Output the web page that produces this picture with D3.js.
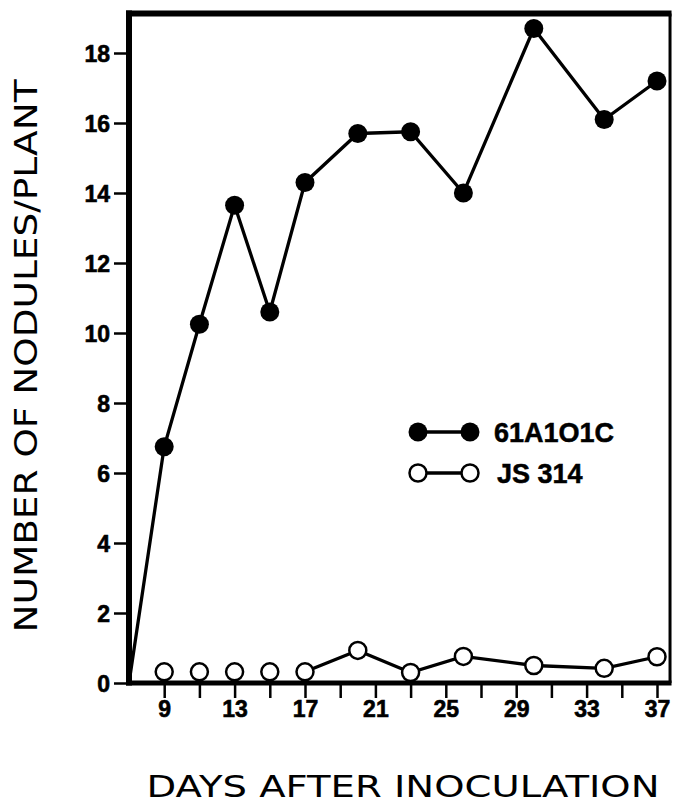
<!DOCTYPE html>
<html><head><meta charset="utf-8">
<script src="https://cdn.jsdelivr.net/npm/d3@7"></script>
<style>body{margin:0;background:#fff}svg{display:block}</style>
</head><body>
<script>
// ---- data ----
const days61 = [9, 11, 13, 15, 17, 20, 23, 26, 30, 34, 37];
const nod61  = [6.75, 10.25, 13.65, 10.6, 14.3, 15.7, 15.75, 14.0, 18.7, 16.1, 17.2];
const daysJS = [9, 11, 13, 15, 17, 20, 23, 26, 30, 34, 37];
const nodJS  = [0.32, 0.32, 0.32, 0.32, 0.32, 0.93, 0.3, 0.76, 0.5, 0.42, 0.75];
const jsLineFrom = 17;          // JS 314 points are joined from day 17 onward
const origin = [7, 0];          // 61A1O1C line starts at the origin
const xTickLabels = [9, 13, 17, 21, 25, 29, 33, 37];
const xMinorTicks = [11, 15, 19, 23, 27, 31, 35];
const yTickLabels = [0, 2, 4, 6, 8, 10, 12, 14, 16, 18];
const seriesNames = ["61A1O1C", "JS 314"];

const W = 675, H = 804;
const svg = d3.select("body").append("svg").attr("width", W).attr("height", H);

const x = d3.scaleLinear().domain([7, 37]).range([129, 657]);
const y = d3.scaleLinear().domain([0, 18]).range([683, 53]);
const xMax = 37.74, yMax = 19.13;
const tickFont = "Liberation Sans, Arial, sans-serif";

// frame: top and right borders
svg.append("line").attr("x1", x(7) - 3).attr("x2", x(xMax) + 1.5)
  .attr("y1", y(yMax)).attr("y2", y(yMax)).attr("stroke", "#000").attr("stroke-width", 6);
svg.append("line").attr("x1", x(xMax)).attr("x2", x(xMax))
  .attr("y1", y(yMax)).attr("y2", y(0)).attr("stroke", "#000").attr("stroke-width", 3);

// y axis
const yAxis = d3.axisLeft(y).tickValues(yTickLabels).tickSize(15).tickPadding(4).tickFormat(d3.format("d"));
const gy = svg.append("g").attr("transform", `translate(${x(7)},0)`).call(yAxis);
gy.attr("font-size", null).attr("font-family", null);
gy.select(".domain").remove();
gy.selectAll(".tick line").attr("stroke", "#000").attr("stroke-width", 2.5);
gy.selectAll(".tick text").style("font-family", tickFont).style("font-weight", "bold")
  .style("font-size", "23px").attr("fill", "#000").attr("stroke", "#000").attr("stroke-width", 0.6)
  .attr("dy", "0.36em");

// x axis
const xAxis = d3.axisBottom(x).tickValues(xTickLabels).tickSize(15).tickPadding(3).tickFormat(d3.format("d"));
const gx = svg.append("g").attr("transform", `translate(0,${y(0)})`).call(xAxis);
gx.attr("font-size", null).attr("font-family", null);
gx.select(".domain").remove();
gx.selectAll(".tick line").attr("stroke", "#000").attr("stroke-width", 2.5);
gx.selectAll(".tick text").style("font-family", tickFont).style("font-weight", "bold")
  .style("font-size", "23px").attr("fill", "#000").attr("stroke", "#000").attr("stroke-width", 0.6);
const gxm = svg.append("g").attr("transform", `translate(0,${y(0)})`)
  .call(d3.axisBottom(x).tickValues(xMinorTicks).tickSize(15).tickFormat(""));
gxm.select(".domain").remove();
gxm.selectAll(".tick line").attr("stroke", "#000").attr("stroke-width", 2.5);

// axis lines (thick)
svg.append("line").attr("x1", x(7)).attr("x2", x(7)).attr("y1", y(yMax) - 3).attr("y2", y(0) + 2.5)
  .attr("stroke", "#000").attr("stroke-width", 6);
svg.append("line").attr("x1", x(7) - 3).attr("x2", x(xMax) + 1.5).attr("y1", y(0)).attr("y2", y(0))
  .attr("stroke", "#000").attr("stroke-width", 5);

// series
const line = d3.line().x(d => x(d[0])).y(d => y(d[1]));
const pts61 = days61.map((d, i) => [d, nod61[i]]);
const ptsJS = daysJS.map((d, i) => [d, nodJS[i]]);

svg.append("path").datum([origin, ...pts61]).attr("d", line)
  .attr("fill", "none").attr("stroke", "#000").attr("stroke-width", 3.3);
svg.append("path").datum(ptsJS.filter(d => d[0] >= jsLineFrom)).attr("d", line)
  .attr("fill", "none").attr("stroke", "#000").attr("stroke-width", 3.3);

svg.selectAll("circle.s61").data(pts61).join("circle").attr("class", "s61")
  .attr("cx", d => x(d[0])).attr("cy", d => y(d[1])).attr("r", 9.5).attr("fill", "#000");
svg.selectAll("circle.sjs").data(ptsJS).join("circle").attr("class", "sjs")
  .attr("cx", d => x(d[0])).attr("cy", d => y(d[1])).attr("r", 8.5)
  .attr("fill", "#fff").attr("stroke", "#000").attr("stroke-width", 2.5);

// legend
const lg = svg.append("g").attr("transform", "translate(418,432)");
const rows = [{name: seriesNames[0], filled: true}, {name: seriesNames[1], filled: false}];
rows.forEach((r, i) => {
  const g = lg.append("g").attr("transform", `translate(0,${i * 41})`);
  g.append("line").attr("x1", 0).attr("x2", 52).attr("stroke", "#000").attr("stroke-width", 3.3);
  [0, 52].forEach(cx => g.append("circle").attr("cx", cx).attr("r", r.filled ? 9.5 : 8.5)
    .attr("fill", r.filled ? "#000" : "#fff").attr("stroke", "#000").attr("stroke-width", r.filled ? 0 : 2.5));
  g.append("text").attr("x", r.filled ? 76 : 79).attr("y", 10).text(r.name)
    .attr("font-family", tickFont).attr("font-weight", "bold")
    .attr("font-size", 27).attr("fill", "#000").attr("stroke", "#000").attr("stroke-width", 0.5);
});

// axis titles
svg.append("text").attr("transform", "translate(37,356) rotate(-90)").attr("text-anchor", "middle")
  .attr("font-family", "DejaVu Sans, sans-serif").attr("font-size", 32)
  .attr("textLength", 553).attr("lengthAdjust", "spacingAndGlyphs").attr("fill", "#000")
  .text("NUMBER OF NODULES/PLANT");
svg.append("text").attr("x", 403).attr("y", 797).attr("text-anchor", "middle")
  .attr("font-family", "DejaVu Sans, sans-serif").attr("font-size", 31)
  .attr("textLength", 513).attr("lengthAdjust", "spacingAndGlyphs").attr("fill", "#000")
  .text("DAYS AFTER INOCULATION");
</script>
</body></html>
